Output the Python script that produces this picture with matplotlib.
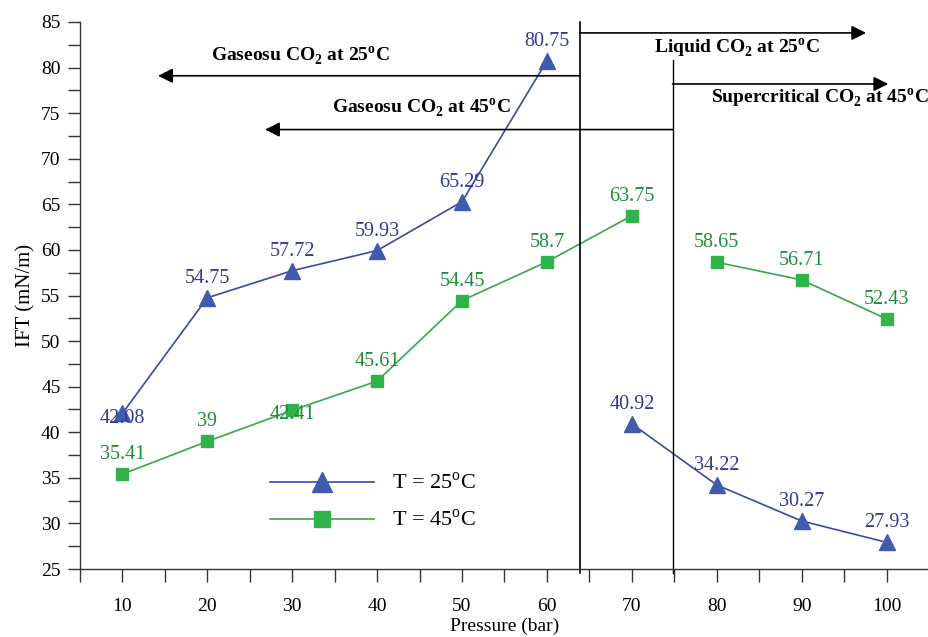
import matplotlib
matplotlib.use("Agg")
import matplotlib.pyplot as plt
from matplotlib.ticker import MultipleLocator

plt.rcParams["font.family"] = ["Liberation Serif", "DejaVu Serif"]
plt.rcParams["mathtext.fontset"] = "custom"
plt.rcParams["mathtext.rm"] = "Liberation Serif"
plt.rcParams["mathtext.bf"] = "Liberation Serif:bold"

# data
pressure_a = [10, 20, 30, 40, 50, 60]
ift25_a = [42.08, 54.75, 57.72, 59.93, 65.29, 80.75]
pressure_b = [70, 80, 90, 100]
ift25_b = [40.92, 34.22, 30.27, 27.93]

pressure_c = [10, 20, 30, 40, 50, 60, 70]
ift45_a = [35.41, 39, 42.41, 45.61, 54.45, 58.7, 63.75]
pressure_d = [80, 90, 100]
ift45_b = [58.65, 56.71, 52.43]

x_ticks = [10, 20, 30, 40, 50, 60, 70, 80, 90, 100]
y_ticks = [25, 30, 35, 40, 45, 50, 55, 60, 65, 70, 75, 80, 85]

blue = "#3b4aa0"
blue_fill = "#3f5aae"
blue_text = "#343a92"
green = "#3aa64c"
green_fill = "#2fb34a"
green_text = "#1e8c38"

fig = plt.figure(figsize=(9.29, 6.37), dpi=100)
ax = fig.add_axes([0.0861, 0.1067, 0.9139, 0.8588])

ax.plot(pressure_a, ift25_a, color=blue, lw=1.2, marker="^", ms=11,
        mfc=blue_fill, mec=blue_fill, label="T = 25$^{\\mathrm{o}}$C")
ax.plot(pressure_b, ift25_b, color=blue, lw=1.2, marker="^", ms=11,
        mfc=blue_fill, mec=blue_fill)
ax.plot(pressure_c, ift45_a, color=green, lw=1.2, marker="s", ms=9,
        mfc=green_fill, mec=green_fill, label="T = 45$^{\\mathrm{o}}$C")
ax.plot(pressure_d, ift45_b, color=green, lw=1.2, marker="s", ms=9,
        mfc=green_fill, mec=green_fill)

# value labels, most sit just above the marker
special_dy = {42.08: -4, 42.41: -3}


def label_points(xs, ys, color):
    for x, y in zip(xs, ys):
        dy = special_dy.get(y, 14)
        ax.annotate(f"{y:g}", (x, y), xytext=(0, dy), textcoords="offset points",
                    ha="center", va="center", color=color, fontsize=14.5)


label_points(pressure_a, ift25_a, blue_text)
label_points(pressure_b, ift25_b, blue_text)
label_points(pressure_c, ift45_a, green_text)
label_points(pressure_d, ift45_b, green_text)

# phase boundaries
ax.plot([63.9, 63.9], [24.6, 85.0], color="k", lw=1.2, clip_on=False)
ax.plot([74.8, 74.8], [24.6, 80.8], color="k", lw=1.0, clip_on=False)

arrow = dict(arrowstyle="-|>", color="k", lw=1.2, mutation_scale=22,
             shrinkA=0, shrinkB=0)
ax.annotate("", xy=(14.2, 79.1), xytext=(63.9, 79.1), arrowprops=arrow)
ax.annotate("", xy=(26.8, 73.2), xytext=(74.8, 73.2), arrowprops=arrow)
ax.annotate("", xy=(97.6, 83.8), xytext=(63.9, 83.8), arrowprops=arrow)
ax.annotate("", xy=(100.2, 78.2), xytext=(74.8, 78.2), arrowprops=arrow)

txt = dict(fontsize=14, fontweight="bold", ha="center", va="center")
ax.text(30.9, 81.3, "Gaseosu CO$_\\mathbf{2}$ at 25$^\\mathbf{o}$C", **txt)
ax.text(45.2, 75.6, "Gaseosu CO$_\\mathbf{2}$ at 45$^\\mathbf{o}$C", **txt)
ax.text(82.4, 82.1, "Liquid CO$_\\mathbf{2}$ at 25$^\\mathbf{o}$C", **txt)
ax.text(92.1, 76.6, "Supercritical CO$_\\mathbf{2}$ at 45$^\\mathbf{o}$C", **txt)

ax.set_xlim(5, 105)
ax.set_ylim(25, 85)
ax.set_xticks(x_ticks)
ax.xaxis.set_minor_locator(MultipleLocator(5))
ax.set_yticks(y_ticks)
ax.yaxis.set_minor_locator(MultipleLocator(2.5))
ax.tick_params(which="both", direction="out", length=9, width=1.0,
               color="#333333", labelsize=14)
ax.tick_params(axis="x", pad=12)
ax.tick_params(axis="y", pad=5)
ax.spines["top"].set_visible(False)
ax.spines["right"].set_visible(False)
for side in ("left", "bottom"):
    ax.spines[side].set_color("#333333")
    ax.spines[side].set_linewidth(1.0)

ax.set_xlabel("Pressure (bar)", fontsize=14, labelpad=2)
ax.set_ylabel("IFT (mN/m)", fontsize=15, labelpad=4)

ax.legend(loc="upper left", bbox_to_anchor=(0.2, 0.212), frameon=False,
          fontsize=16, handlelength=4.7, markerscale=1.3, labelspacing=0.7)

fig.savefig("out.png", dpi=100)
